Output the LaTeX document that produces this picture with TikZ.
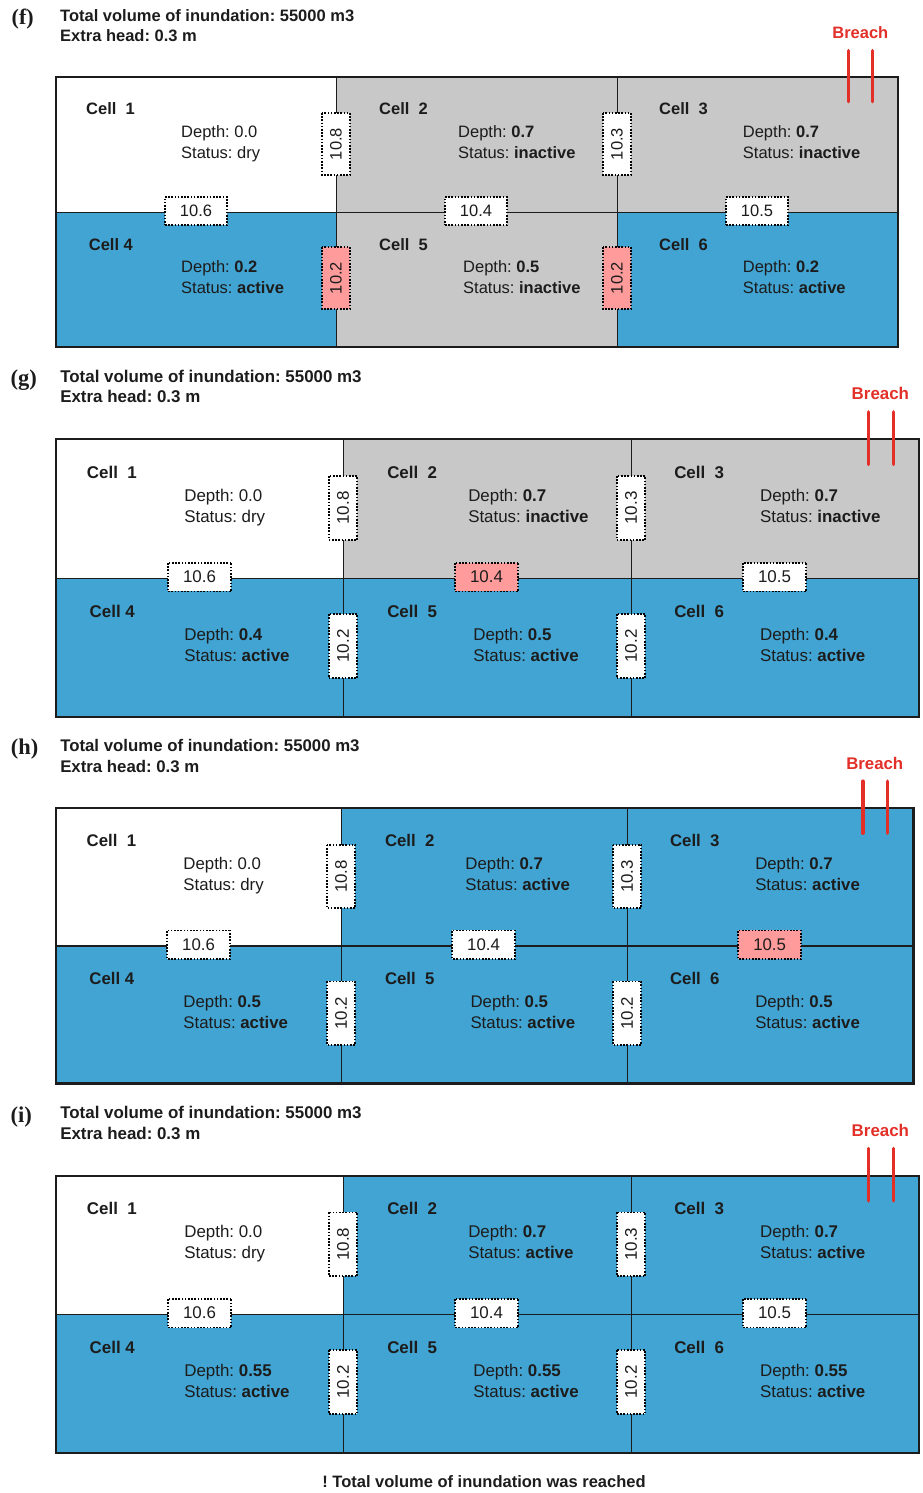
\documentclass[tikz,border=0pt]{standalone}
\usepackage{fontspec}
\setmainfont{Liberation Sans}
\newfontfamily\lblfont{Liberation Serif}
\frenchspacing
\definecolor{wblue}{RGB}{66,164,210}
\definecolor{wgray}{RGB}{200,200,200}
\definecolor{wpink}{RGB}{255,155,155}
\definecolor{wred}{RGB}{226,48,40}
\definecolor{txt}{RGB}{28,28,28}
\newcommand{\fs}{\fontsize{16.5}{19}\selectfont}
\tikzset{
  cellbox/.style={draw=txt, line width=1.3pt, anchor=north west, inner sep=0pt, minimum height=134.5},
  cellname/.style={anchor=base west, inner sep=0pt, text=txt, font=\fs\bfseries},
  info/.style={anchor=base west, inner sep=0pt, text=txt, font=\fs},
  gauge/.style={draw=black, fill=white, line width=1.8pt, dash pattern=on 1.6pt off 1.6pt, minimum width=62, minimum height=28, inner sep=0pt, text=txt, font=\fs},
  gaugeV/.style={gauge, rotate=90},
  hot/.style={fill=wpink},
  title/.style={anchor=base west, inner sep=0pt, text=txt, font=\fs\bfseries},
  plabel/.style={anchor=base west, inner sep=0pt, text=txt, font=\lblfont\bfseries\fontsize{22}{24}\selectfont},
  breachtxt/.style={anchor=base, inner sep=0pt, text=wred, font=\fs\bfseries},
  breachline/.style={draw=wred, line width=3.5pt, line cap=round},
  outer/.style={draw=txt, line width=1.8pt}
}
% #1 prefix, #2 x label, #3 x info, #4 y baseline, #5 label, #6 depth, #7 status
\newcommand{\cellinfo}[7]{%
  \node[cellname] (#1n) at (#2,#4) {#5};
  \node[info] (#1d) at (#3,#4+22.5) {Depth: #6};
  \node[info] (#1s) at (#3,#4+43) {Status: #7};
}
\begin{document}
\begin{tikzpicture}[x=1pt,y=-1pt]
\useasboundingbox (0,0) rectangle (923,1493);

% ================= panel f
\begin{scope}[shift={(56,77)}]
\node[plabel] (flab) at (-44.5,-52) {(f)};
\node[title] (ft1) at (4,-55.3) {Total volume of inundation: 55000 m3};
\node[title] (ft2) at (4,-35.3) {Extra head: 0.3 m};
\node[cellbox, fill=white, minimum width=280] (f1) at (0,0) {};
\node[cellbox, fill=wgray, minimum width=281] (f2) at (280,0) {};
\node[cellbox, fill=wgray, minimum width=280] (f3) at (561,0) {};
\node[cellbox, fill=wblue, minimum width=280] (f4) at (0,134.5) {};
\node[cellbox, fill=wgray, minimum width=281] (f5) at (280,134.5) {};
\node[cellbox, fill=wblue, minimum width=280] (f6) at (561,134.5) {};
\draw[outer] (f1.north west) rectangle (f6.south east);
\cellinfo{f1}{30}{125}{38}{Cell\ \ 1}{0.0}{dry}
\cellinfo{f2}{323}{402}{38}{Cell\ \ 2}{\textbf{0.7}}{\textbf{inactive}}
\cellinfo{f3}{603}{686.7}{38}{Cell\ \ 3}{\textbf{0.7}}{\textbf{inactive}}
\cellinfo{f4}{32.7}{125}{173}{Cell 4}{\textbf{0.2}}{\textbf{active}}
\cellinfo{f5}{323}{407}{173}{Cell\ \ 5}{\textbf{0.5}}{\textbf{inactive}}
\cellinfo{f6}{603}{686.7}{173}{Cell\ \ 6}{\textbf{0.2}}{\textbf{active}}
\node[gaugeV] (fg12) at (280,67) {10.8};
\node[gaugeV] (fg23) at (561,67) {10.3};
\node[gauge] (fg14) at (140,134) {10.6};
\node[gauge] (fg25) at (420,134) {10.4};
\node[gauge] (fg36) at (701,134) {10.5};
\node[gaugeV, hot] (fg45) at (280,201) {10.2};
\node[gaugeV, hot] (fg56) at (561,201) {10.2};
\node[breachtxt] (fbr) at (804.3,-38) {Breach};
\coordinate (fb1t) at (792.3,-26.3); \coordinate (fb1b) at (792.3,24.7);
\coordinate (fb2t) at (816.7,-26.3); \coordinate (fb2b) at (816.7,24.7);
\draw[breachline] (fb1t) -- (fb1b);
\draw[breachline] (fb2t) -- (fb2b);
\end{scope}

% ================= panel g
\begin{scope}[shift={(56,439)}, xscale=1.025, yscale=1.03, transform shape]
\node[plabel] (glab) at (-44.5,-52) {(g)};
\node[title] (gt1) at (4,-55.3) {Total volume of inundation: 55000 m3};
\node[title] (gt2) at (4,-35.3) {Extra head: 0.3 m};
\node[cellbox, fill=white, minimum width=280] (g1) at (0,0) {};
\node[cellbox, fill=wgray, minimum width=281] (g2) at (280,0) {};
\node[cellbox, fill=wgray, minimum width=280] (g3) at (561,0) {};
\node[cellbox, fill=wblue, minimum width=280] (g4) at (0,134.5) {};
\node[cellbox, fill=wblue, minimum width=281] (g5) at (280,134.5) {};
\node[cellbox, fill=wblue, minimum width=280] (g6) at (561,134.5) {};
\draw[outer] (g1.north west) rectangle (g6.south east);
\cellinfo{g1}{30}{125}{38}{Cell\ \ 1}{0.0}{dry}
\cellinfo{g2}{323}{402}{38}{Cell\ \ 2}{\textbf{0.7}}{\textbf{inactive}}
\cellinfo{g3}{603}{686.7}{38}{Cell\ \ 3}{\textbf{0.7}}{\textbf{inactive}}
\cellinfo{g4}{32.7}{125}{173}{Cell 4}{\textbf{0.4}}{\textbf{active}}
\cellinfo{g5}{323}{407}{173}{Cell\ \ 5}{\textbf{0.5}}{\textbf{active}}
\cellinfo{g6}{603}{686.7}{173}{Cell\ \ 6}{\textbf{0.4}}{\textbf{active}}
\node[gaugeV] (gg12) at (280,67) {10.8};
\node[gaugeV] (gg23) at (561,67) {10.3};
\node[gauge] (gg14) at (140,134) {10.6};
\node[gauge, hot] (gg25) at (420,134) {10.4};
\node[gauge] (gg36) at (701,134) {10.5};
\node[gaugeV] (gg45) at (280,201) {10.2};
\node[gaugeV] (gg56) at (561,201) {10.2};
\node[breachtxt] (gbr) at (804.3,-38) {Breach};
\coordinate (gb1t) at (792.3,-26.3); \coordinate (gb1b) at (792.3,24.7);
\coordinate (gb2t) at (816.7,-26.3); \coordinate (gb2b) at (816.7,24.7);
\draw[breachline] (gb1t) -- (gb1b);
\draw[breachline] (gb2t) -- (gb2b);
\end{scope}

% ================= panel h
\begin{scope}[shift={(56,808)}, xscale=1.018, yscale=1.02, transform shape]
\node[plabel] (hlab) at (-44.5,-52) {(h)};
\node[title] (ht1) at (4,-55.3) {Total volume of inundation: 55000 m3};
\node[title] (ht2) at (4,-35.3) {Extra head: 0.3 m};
\node[cellbox, fill=white, minimum width=280] (h1) at (0,0) {};
\node[cellbox, fill=wblue, minimum width=281] (h2) at (280,0) {};
\node[cellbox, fill=wblue, minimum width=280] (h3) at (561,0) {};
\node[cellbox, fill=wblue, minimum width=280] (h4) at (0,134.5) {};
\node[cellbox, fill=wblue, minimum width=281] (h5) at (280,134.5) {};
\node[cellbox, fill=wblue, minimum width=280] (h6) at (561,134.5) {};
\draw[outer] (h1.north west) rectangle (h6.south east);
\cellinfo{h1}{30}{125}{38}{Cell\ \ 1}{0.0}{dry}
\cellinfo{h2}{323}{402}{38}{Cell\ \ 2}{\textbf{0.7}}{\textbf{active}}
\cellinfo{h3}{603}{686.7}{38}{Cell\ \ 3}{\textbf{0.7}}{\textbf{active}}
\cellinfo{h4}{32.7}{125}{173}{Cell 4}{\textbf{0.5}}{\textbf{active}}
\cellinfo{h5}{323}{407}{173}{Cell\ \ 5}{\textbf{0.5}}{\textbf{active}}
\cellinfo{h6}{603}{686.7}{173}{Cell\ \ 6}{\textbf{0.5}}{\textbf{active}}
\node[gaugeV] (hg12) at (280,67) {10.8};
\node[gaugeV] (hg23) at (561,67) {10.3};
\node[gauge] (hg14) at (140,134) {10.6};
\node[gauge] (hg25) at (420,134) {10.4};
\node[gauge, hot] (hg36) at (701,134) {10.5};
\node[gaugeV] (hg45) at (280,201) {10.2};
\node[gaugeV] (hg56) at (561,201) {10.2};
\node[breachtxt] (hbr) at (804.3,-38) {Breach};
\coordinate (hb1t) at (792.3,-26.3); \coordinate (hb1b) at (792.3,24.7);
\coordinate (hb2t) at (816.7,-26.3); \coordinate (hb2b) at (816.7,24.7);
\draw[breachline] (hb1t) -- (hb1b);
\draw[breachline] (hb2t) -- (hb2b);
\end{scope}

% ================= panel i
\begin{scope}[shift={(56,1175.5)}, xscale=1.025, yscale=1.027, transform shape]
\node[plabel] (ilab) at (-44.5,-52) {(i)};
\node[title] (it1) at (4,-55.3) {Total volume of inundation: 55000 m3};
\node[title] (it2) at (4,-35.3) {Extra head: 0.3 m};
\node[cellbox, fill=white, minimum width=280] (i1) at (0,0) {};
\node[cellbox, fill=wblue, minimum width=281] (i2) at (280,0) {};
\node[cellbox, fill=wblue, minimum width=280] (i3) at (561,0) {};
\node[cellbox, fill=wblue, minimum width=280] (i4) at (0,134.5) {};
\node[cellbox, fill=wblue, minimum width=281] (i5) at (280,134.5) {};
\node[cellbox, fill=wblue, minimum width=280] (i6) at (561,134.5) {};
\draw[outer] (i1.north west) rectangle (i6.south east);
\cellinfo{i1}{30}{125}{38}{Cell\ \ 1}{0.0}{dry}
\cellinfo{i2}{323}{402}{38}{Cell\ \ 2}{\textbf{0.7}}{\textbf{active}}
\cellinfo{i3}{603}{686.7}{38}{Cell\ \ 3}{\textbf{0.7}}{\textbf{active}}
\cellinfo{i4}{32.7}{125}{173}{Cell 4}{\textbf{0.55}}{\textbf{active}}
\cellinfo{i5}{323}{407}{173}{Cell\ \ 5}{\textbf{0.55}}{\textbf{active}}
\cellinfo{i6}{603}{686.7}{173}{Cell\ \ 6}{\textbf{0.55}}{\textbf{active}}
\node[gaugeV] (ig12) at (280,67) {10.8};
\node[gaugeV] (ig23) at (561,67) {10.3};
\node[gauge] (ig14) at (140,134) {10.6};
\node[gauge] (ig25) at (420,134) {10.4};
\node[gauge] (ig36) at (701,134) {10.5};
\node[gaugeV] (ig45) at (280,201) {10.2};
\node[gaugeV] (ig56) at (561,201) {10.2};
\node[breachtxt] (ibr) at (804.3,-38) {Breach};
\coordinate (ib1t) at (792.3,-26.3); \coordinate (ib1b) at (792.3,24.7);
\coordinate (ib2t) at (816.7,-26.3); \coordinate (ib2b) at (816.7,24.7);
\draw[breachline] (ib1t) -- (ib1b);
\draw[breachline] (ib2t) -- (ib2b);
\end{scope}

\node[anchor=base, inner sep=0pt, text=txt, font=\fs\bfseries] (note) at (484,1487.5) {! Total volume of inundation was reached};
\end{tikzpicture}
\end{document}
